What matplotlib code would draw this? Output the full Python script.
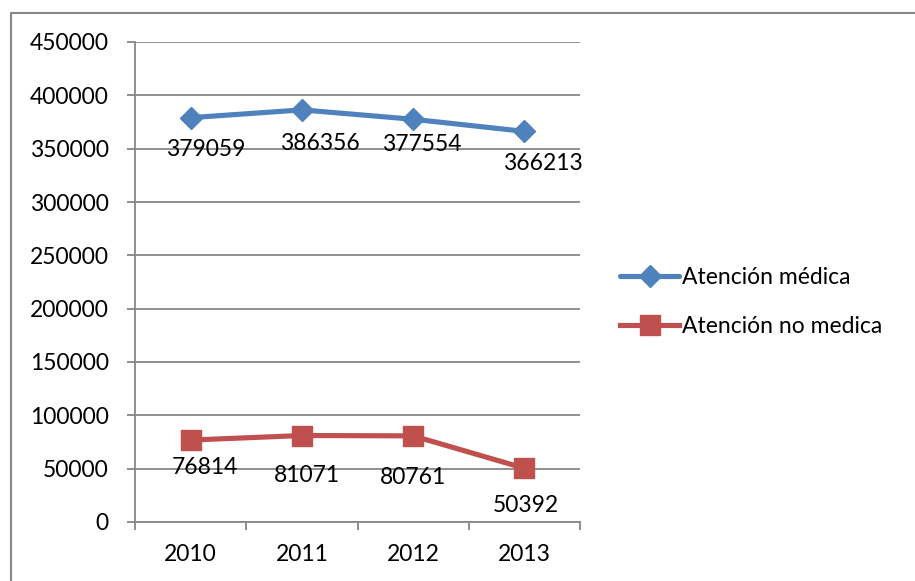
import numpy as np
import matplotlib
matplotlib.use("Agg")
import matplotlib.pyplot as plt
from matplotlib.lines import Line2D

plt.rcParams["font.family"] = ["Lato", "DejaVu Sans"]

years = ["2010", "2011", "2012", "2013"]
medica = [379059, 386356, 377554, 366213]
no_medica = [76814, 81071, 80761, 50392]
y_ticks = [0, 50000, 100000, 150000, 200000, 250000, 300000, 350000, 400000, 450000]

BLUE = "#4F81BD"; RED = "#C0504D"; GRID = "#878787"

# label offsets (points) below each marker
off_med = [(11, -23), (13, -24), (6, -18), (13, -23)]
off_no = [(10, -20), (4, -29), (0, -30), (1, -27)]

fig = plt.figure(figsize=(9.15, 5.81), dpi=100)
ax = fig.add_axes([135/915, 1-522/581, 445/915, 480/581])

x = np.arange(len(years))
ax.plot(x, medica, color=BLUE, lw=3.7, marker="D", ms=11, zorder=4,
        solid_capstyle="round", label="Atención médica")
ax.plot(x, no_medica, color=RED, lw=3.7, marker="s", ms=14, zorder=4,
        label="Atención no medica")

for xi, v, o in zip(x, medica, off_med):
    ax.annotate(str(v), xy=(xi, v), xytext=o, textcoords="offset points",
                ha="center", va="center", fontsize=16.5, color="black", zorder=5)
for xi, v, o in zip(x, no_medica, off_no):
    ax.annotate(str(v), xy=(xi, v), xytext=o, textcoords="offset points",
                ha="center", va="center", fontsize=16.5, color="black", zorder=5)

ax.set_xlim(-0.5, len(years) - 0.5)
ax.set_ylim(0, 450000)
ax.set_yticks(y_ticks)
ax.set_yticklabels([str(t) for t in y_ticks])
ax.set_xticks(x)
ax.set_xticklabels(years)
ax.set_xticks(np.arange(-0.5, len(years)), minor=True)
ax.tick_params(axis="x", which="major", length=0, pad=16, labelsize=16.5)
ax.tick_params(axis="x", which="minor", length=6, width=1.3, color=GRID)
ax.tick_params(axis="y", length=6, width=1.3, color=GRID, pad=13, labelsize=16.5)
ax.grid(axis="y", color=GRID, lw=1.3, zorder=1)
for s in ["top", "right"]:
    ax.spines[s].set_visible(False)
for s in ["left", "bottom"]:
    ax.spines[s].set_color(GRID)
    ax.spines[s].set_linewidth(1.3)

# legend, placed right of the plot
ax.legend(loc="center left", bbox_to_anchor=(1.0 + 10/445, 0.458), frameon=False,
          fontsize=16.5, handlelength=2.6, handletextpad=0.1, labelspacing=1.2,
          borderaxespad=0.9)

# chart frame (top and left edges)
fig.add_artist(Line2D([11/915, 11/915, 1.0], [0.0, 1-13/581, 1-13/581],
                      transform=fig.transFigure, color=GRID, lw=1.5))

fig.savefig("out.png", dpi=100)
